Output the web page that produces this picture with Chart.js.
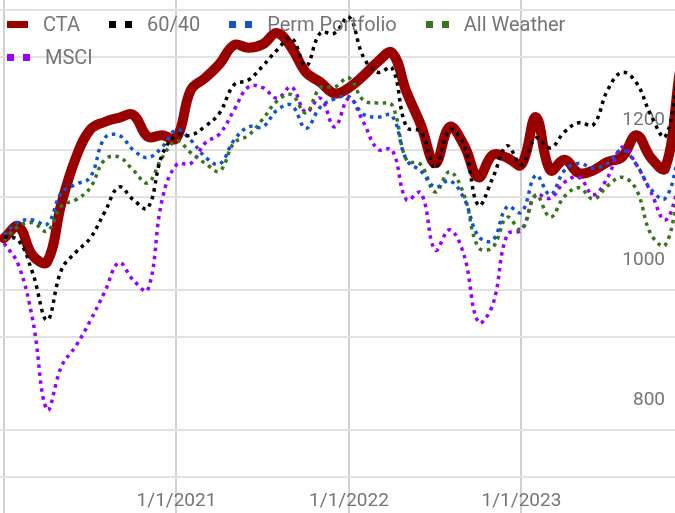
<!DOCTYPE html>
<html>
<head>
<meta charset="utf-8">
<script src="https://cdn.jsdelivr.net/npm/chart.js@4.4.0/dist/chart.umd.min.js"></script>
<style>
body { margin: 0; background: #fff; font-family: Roboto, sans-serif; }
#wrap { position: relative; width: 675px; height: 513px; overflow: hidden; }
#legenda { position: absolute; left: 7px; top: 8px; width: 640px; display: flex; flex-wrap: wrap;
           font-size: 20px; line-height: 33px; color: #757575; }
.item { display: flex; align-items: center; margin-right: 29px; }
.marca { height: 7px; margin-right: 15px; }
</style>
</head>
<body>
<div id="wrap">
  <canvas id="grafico" width="675" height="513"></canvas>
  <div id="legenda"></div>
</div>
<script>
// monthly values, Jan 2020 .. Dec 2023
const nomes = ['CTA', '60/40', 'Perm Portfolio', 'All Weather', 'MSCI'];
const cores = ['#990000', '#000000', '#1155cc', '#38761d', '#9900ff'];

const cta = [1074, 1091, 1049, 1040, 1124, 1189, 1229, 1240, 1246, 1250, 1219, 1221,
             1217, 1286, 1303, 1323, 1350, 1346, 1351, 1367, 1346, 1311, 1297, 1281,
             1289, 1306, 1326, 1339, 1283, 1236, 1181, 1233, 1207, 1161, 1193, 1189,
             1179, 1247, 1171, 1186, 1167, 1171, 1183, 1190, 1221, 1189, 1174, 1310];
const p6040 = [1076, 1071, 1024, 957, 1029, 1054, 1074, 1111, 1147, 1129, 1117, 1193,
               1221, 1221, 1234, 1253, 1293, 1300, 1320, 1343, 1360, 1320, 1367, 1367,
               1390, 1333, 1311, 1317, 1233, 1226, 1174, 1229, 1207, 1121, 1160, 1206,
               1179, 1217, 1203, 1226, 1239, 1236, 1286, 1311, 1296, 1250, 1219, 1320];
const perm = [1079, 1097, 1100, 1094, 1139, 1151, 1161, 1217, 1221, 1200, 1189, 1204,
              1229, 1214, 1190, 1180, 1214, 1233, 1233, 1257, 1264, 1231, 1261, 1273,
              1276, 1251, 1247, 1249, 1186, 1170, 1147, 1156, 1131, 1077, 1071, 1119,
              1111, 1164, 1136, 1171, 1181, 1174, 1181, 1200, 1179, 1144, 1131, 1195];
const allWeather = [1071, 1091, 1096, 1084, 1120, 1129, 1146, 1186, 1190, 1171, 1153, 1189,
                    1213, 1196, 1181, 1170, 1210, 1221, 1244, 1270, 1279, 1253, 1289, 1290,
                    1303, 1271, 1267, 1264, 1186, 1179, 1140, 1169, 1136, 1061, 1061, 1104,
                    1086, 1136, 1104, 1134, 1146, 1130, 1149, 1161, 1143, 1080, 1064, 1150];
const msci = [1067, 1036, 957, 829, 891, 920, 956, 997, 1039, 1014, 1000, 1129,
              1179, 1181, 1210, 1223, 1257, 1290, 1289, 1274, 1290, 1254, 1274, 1233,
              1274, 1240, 1201, 1200, 1129, 1139, 1057, 1086, 1050, 954, 979, 1079,
              1086, 1136, 1131, 1154, 1161, 1136, 1161, 1204, 1179, 1140, 1100, 1150];

// x ticks in months since Jan 2020
const xTicks = [0, 12, 24, 36];
const xTickLabels = ['', '1/1/2021', '1/1/2022', '1/1/2023'];
const yTicks = [733.33, 800, 933.33, 1000, 1133.33, 1200, 1333.33, 1400];
const yTickLabels = ['', '800', '', '1000', '', '1200', '', ''];

const series = [cta, p6040, perm, allWeather, msci];

// legenda em html por cima do grafico
const leg = document.getElementById('legenda');
nomes.forEach(function (nome, k) {
    const item = document.createElement('div');
    item.className = 'item';
    const marca = document.createElement('span');
    marca.className = 'marca';
    if (k == 0) {
        marca.style.width = '21px';
        marca.style.background = cores[k];
    } else {
        marca.style.width = '23px';
        marca.style.background = `linear-gradient(to right, ${cores[k]} 0 7px, transparent 7px 16px, ${cores[k]} 16px 23px)`;
    }
    item.appendChild(marca);
    item.appendChild(document.createTextNode(nome));
    leg.appendChild(item);
});

const datasets = series.map(function (s, k) {
    return {
        label: nomes[k],
        data: s.map((v, i) => ({ x: i, y: v })),
        borderColor: cores[k],
        borderWidth: k == 0 ? 10 : 3.5,
        borderDash: k == 0 ? [] : [3.5, 4.5],
        borderCapStyle: k == 0 ? 'round' : 'butt',
        borderJoinStyle: 'round',
        pointRadius: 0,
        tension: 0.4,
        fill: false,
        order: k == 0 ? 10 : k
    };
});

const fonte = { family: 'Roboto', size: 19 };

new Chart(document.getElementById('grafico').getContext('2d'), {
    type: 'line',
    data: { datasets: datasets },
    options: {
        responsive: false,
        animation: false,
        layout: { padding: 0, autoPadding: false },
        plugins: { legend: { display: false }, tooltip: { enabled: false } },
        scales: {
            x: {
                type: 'linear',
                min: -0.278,
                max: 46.68,
                afterBuildTicks: ax => { ax.ticks = xTicks.map(v => ({ value: v })); },
                afterFit: ax => { ax.height = 0; ax.paddingLeft = 0; ax.paddingRight = 0; },
                grid: { color: '#d0d0d0', lineWidth: 2, drawTicks: false },
                border: { display: false },
                ticks: {
                    mirror: true, padding: 0, color: '#757575', font: fonte, maxRotation: 0, autoSkip: false,
                    callback: (v, i) => xTickLabels[i]
                }
            },
            y: {
                position: 'right',
                min: 681.4,
                max: 1414.3,
                afterBuildTicks: ax => { ax.ticks = yTicks.map(v => ({ value: v })); },
                afterFit: ax => { ax.width = 0; ax.paddingTop = 0; ax.paddingBottom = 0; },
                grid: { color: '#e2e2e2', lineWidth: 2, drawTicks: false },
                border: { display: false },
                ticks: {
                    mirror: true, padding: -10, labelOffset: -30, color: '#757575', font: fonte,
                    autoSkip: false, callback: (v, i) => yTickLabels[i]
                }
            }
        }
    }
});
</script>
</body>
</html>
